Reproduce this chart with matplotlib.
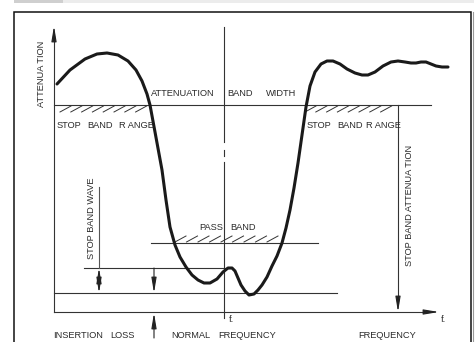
import matplotlib
matplotlib.use("Agg")
import matplotlib.pyplot as plt
import numpy as np

plt.rcParams['font.family'] = ['Liberation Sans', 'DejaVu Sans']

# Response curve (diagram units = picture pixels, y downwards)
curve_x = [57, 70, 85, 97, 107, 118, 128, 136, 142, 147, 150, 155, 162, 166, 170, 175, 180, 186, 192, 198,
           204, 210, 217, 223, 228, 232, 235, 238, 241, 245, 249, 254, 258, 262, 267, 272, 277, 282, 286,
           290, 294, 298, 302, 306, 310, 315, 321, 327, 333, 340, 347, 355, 362, 368, 375, 383, 391, 398,
           405, 411, 416, 421, 426, 431, 436, 442, 448]
curve_y = [84, 70, 59, 54, 53, 55, 61, 70, 81, 94, 105, 132, 170, 200, 227, 245, 257, 267, 275, 280,
           283, 283, 279, 272, 268, 268, 271, 278, 285, 291, 295, 294, 290, 285, 277, 266, 256, 243, 228,
           210, 188, 163, 135, 107, 86, 72, 64, 61, 61, 64, 69, 73, 75, 75, 72, 66, 62, 61,
           62, 63, 63, 62, 62, 64, 66, 67, 67]

# Reference levels
stop_level = 105
pass_level = 243
wave_level = 268
loss_level = 293
base_level = 312
f0_x = 224

fig = plt.figure(figsize=(4.75, 3.42), dpi=100)
ax = fig.add_axes([0, 0, 1, 1])
ax.set_xlim(0, 475)
ax.set_ylim(342, 0)
ax.axis('off')

# top gray strip
ax.fill_between([14, 474], 0, 2.5, color='#ececec', lw=0)
ax.fill_between([14, 63], 0, 2.5, color='#cfcfcf', lw=0)

# frame
ax.plot([14, 14, 471, 471], [345, 12.3, 12.3, 345], color='#111111', lw=1.1, solid_joinstyle='miter')
ax.plot([473, 473], [12.3, 345], color='#999999', lw=0.8)

thin = dict(color='#333333', lw=0.8)
tc = '#2b2b2b'
fs = 6.7
aprops = dict(arrowstyle='-|>,head_length=0.9,head_width=0.15', color='#222222', lw=0.8,
              shrinkA=0, shrinkB=0)

# axes with arrows
ax.plot([54, 54], [base_level, 34], **thin)
ax.annotate('', xy=(54, 26), xytext=(54, 36), arrowprops=aprops)
ax.plot([54, 430], [base_level, base_level], **thin)
ax.annotate('', xy=(439, base_level), xytext=(428, base_level), arrowprops=aprops)

# horizontal level lines
ax.plot([54, 431], [stop_level, stop_level], **thin)
ax.plot([151, 318], [pass_level, pass_level], **thin)
ax.plot([84, 230], [wave_level, wave_level], **thin)
ax.plot([54, 337], [loss_level, loss_level], **thin)

# center vertical (dashed section)
ax.plot([f0_x, f0_x], [27, 142], **thin)
ax.plot([f0_x, f0_x], [150, 156], **thin)
ax.plot([f0_x, f0_x], [162, 318], **thin)

# right stop-band attenuation arrow
ax.plot([398, 398], [stop_level, 303], **thin)
ax.annotate('', xy=(398, base_level), xytext=(398, 300), arrowprops=aprops)

# stop band wave marker
ax.plot([99, 99], [187, wave_level], color='#555555', lw=0.8)
ax.annotate('', xy=(99, wave_level), xytext=(99, loss_level),
            arrowprops=dict(aprops, arrowstyle='<|-|>,head_length=0.9,head_width=0.15'))
# insertion loss arrows
ax.annotate('', xy=(154, loss_level), xytext=(154, wave_level), arrowprops=aprops)
ax.annotate('', xy=(154, base_level + 1), xytext=(154, 338), arrowprops=aprops)

# hatching
def hatch(x0, x1, y_line, below=True, step=10.8, w=11, h=7):
    x = x0
    while x + w <= x1 + 1:
        if below:
            ax.plot([x, x + w], [y_line + h, y_line + 1], color='#333333', lw=0.7)
        else:
            ax.plot([x, x + w], [y_line - 1, y_line - h], color='#333333', lw=0.7)
        x += step

hatch(60, 148, stop_level, below=True)
hatch(305, 396, stop_level, below=True)
hatch(175, 282, pass_level, below=False, step=11.5)

# curve
ax.plot(curve_x, curve_y, color='#1a1a1a', lw=2.2, solid_capstyle='round', solid_joinstyle='round')

# texts
def t(x, y, s, **kw):
    ax.text(x, y, s, fontsize=fs, color=tc, va='center', **kw)

t(42, 74, 'ATTENUA TION', rotation=90, ha='center')
t(92, 218, 'STOP BAND WAVE', rotation=90, ha='center')
t(409, 205, 'STOP BAND ATTENUA TION', rotation=90, ha='center')
for x0, words in ((57, ('STOP', 'BAND', 'R ANGE')), (307, ('STOP', 'BAND', 'R ANGE'))):
    for dx, w in zip((0, 30, 62 if x0 == 57 else 59), words):
        t(x0 + dx, 126, w, ha='left')
t(151, 93, 'ATTENUATION', ha='left')
t(227, 93, 'BAND', ha='left')
t(266, 93, 'WIDTH', ha='left')
t(199, 228, 'PASS', ha='left')
t(230, 228, 'BAND', ha='left')
t(53, 336, 'INSERTION', ha='left')
t(110, 336, 'LOSS', ha='left')
t(171, 336, 'NORMAL', ha='left')
t(218, 336, 'FREQUENCY', ha='left')
t(358, 336, 'FREQUENCY', ha='left')
t(441, 319, 'f.', ha='left')
t(229, 320, 'f.', ha='left')

fig.savefig('out.png', dpi=100)
